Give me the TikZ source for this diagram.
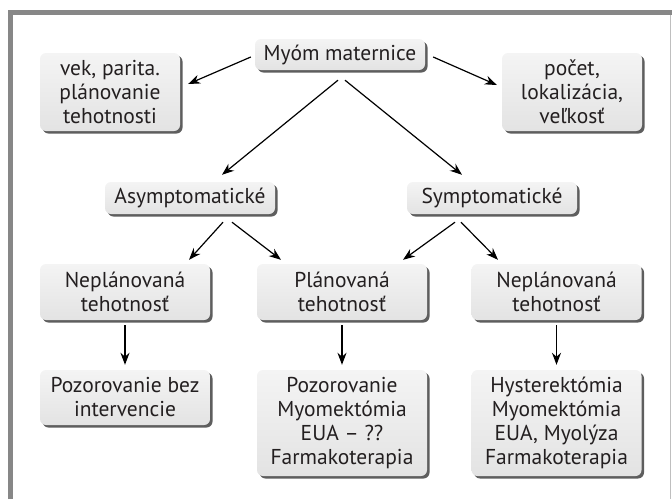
\documentclass[tikz,border=0pt]{standalone}
\usepackage{fontspec}
\setmainfont{PT Sans}
\usepackage{xcolor}
\usetikzlibrary{arrows.meta,shadows}
\definecolor{boxfill}{HTML}{E3E3E3}
\definecolor{boxtop}{HTML}{F4F4F4}
\definecolor{framegray}{HTML}{878787}
\definecolor{textdark}{HTML}{231F20}

\tikzset{
	box/.style={rounded corners=6pt, top color=boxtop, bottom color=boxfill, draw=none,
		drop shadow={shadow xshift=2.5pt, shadow yshift=-2.5pt, fill=black!70, opacity=0.9},
		align=center, inner sep=0pt, text=textdark, font=\fontsize{21.5}{24}\selectfont},
	link/.style={->, line width=1.2pt}
}

\begin{document}
\begin{tikzpicture}[x=1pt,y=-1pt,>={Stealth[length=12pt,width=9pt]}]
			\useasboundingbox (0,0) rectangle (672,499);
			% frame
			\draw[framegray, line width=5pt] (10.5,499) -- (10.5,12.5) -- (672,12.5);
			\draw[black!25, line width=1pt] (670,15) -- (670,499);

			\node[box, minimum width=170pt, minimum height=31pt] (root) at (340,54.5) {Myóm maternice};
			\node[box, minimum width=140pt, minimum height=78pt] (vek) at (110,92) {vek, parita.\\plánovanie\\tehotnosti};
			\node[box, minimum width=140pt, minimum height=78pt] (pocet) at (572,92) {počet,\\lokalizácia,\\veľkosť};
			\node[box, minimum width=170pt, minimum height=32pt] (asym) at (190,198) {Asymptomatické};
			\node[box, minimum width=170pt, minimum height=32pt] (sym) at (492,198) {Symptomatické};
			\node[box, minimum width=170pt, minimum height=56pt] (nepl) at (125,292) {Neplánovaná\\tehotnosť};
			\node[box, minimum width=170pt, minimum height=56pt] (plan) at (342,292) {Plánovaná\\tehotnosť};
			\node[box, minimum width=170pt, minimum height=56pt] (nepr) at (556.5,292) {Neplánovaná\\tehotnosť};
			\node[box, minimum width=170pt, minimum height=55pt] (pozor) at (125,397.5) {Pozorovanie bez\\intervencie};
			\node[box, minimum width=170pt, minimum height=106pt] (liecba) at (342,423) {Pozorovanie\\Myomektómia\\EUA -- ??\\Farmakoterapia};
			\node[box, minimum width=170pt, minimum height=106pt] (hyst) at (556.5,423) {Hysterektómia\\Myomektómia\\EUA, Myolýza\\Farmakoterapia};

			\path[link] ([xshift=-4pt,yshift=-2.5pt]root.west) edge ([xshift=8pt,yshift=8pt]vek.east)
					([xshift=8pt,yshift=-2.5pt]root.east) edge ([xshift=-5pt,yshift=7pt]pocet.west)
					([xshift=-2pt,yshift=-10pt]root.south) edge ([xshift=32pt,yshift=7pt]asym.north)
					([xshift=5pt,yshift=-10pt]root.south) edge ([xshift=-30pt,yshift=7pt]sym.north)
					([xshift=33pt,yshift=-8pt]asym.south) edge ([xshift=64pt,yshift=4pt]nepl.north)
					([xshift=42pt,yshift=-8pt]asym.south) edge ([xshift=-61pt,yshift=4pt]plan.north)
					([xshift=-37pt,yshift=-8pt]sym.south) edge ([xshift=61pt,yshift=4pt]plan.north)
					([xshift=-31pt,yshift=-8pt]sym.south) edge ([xshift=-58.5pt,yshift=4pt]nepr.north)
					([yshift=-5pt]nepl.south) edge ([yshift=5pt]pozor.north)
					([yshift=-5pt]plan.south) edge ([yshift=5pt]liecba.north)
					([yshift=-5pt]nepr.south) edge ([yshift=5pt]hyst.north);
\end{tikzpicture}
\end{document}
